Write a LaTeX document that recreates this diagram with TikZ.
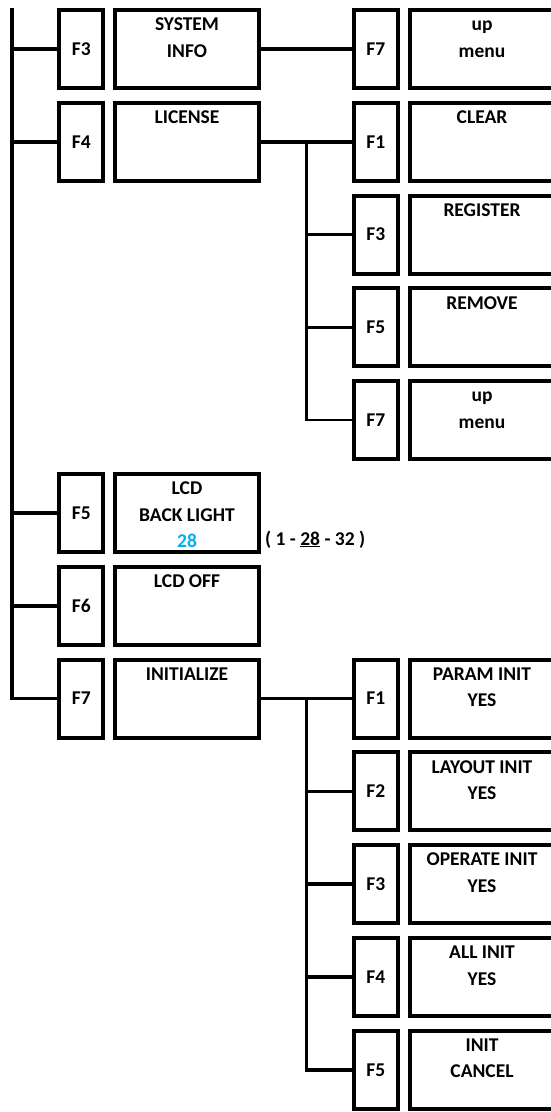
\documentclass[tikz,border=0pt]{standalone}
\usepackage{fontspec}
\setmainfont{Carlito}
\usepackage{tikz}

\definecolor{valblue}{HTML}{00B0F0}
\newcommand{\hd}{\rule{0pt}{19pt}}

\begin{document}
\begin{tikzpicture}[x=1pt, y=-1pt,
    every node/.style={font=\bfseries\fontsize{19.5}{26.4}\selectfont},
    fkey/.style={draw, line width=4pt, minimum width=44pt, minimum height=78pt, inner sep=0pt, outer sep=0pt},
    menu/.style={draw, line width=4pt, minimum width=143.4pt, minimum height=78pt, inner sep=0pt, outer sep=0pt},
    txt/.style={anchor=north, inner sep=0pt, align=center},
    wire/.style={line width=3.5pt}]
    \useasboundingbox (0,0) rectangle (550,1112);

    % Colonne gauche
    \coordinate (bus) at (12,8);
    \node[fkey] (kF3) at (81.25,49) {F3};
    \node[menu] (sysinfo) at (187,49) {};
    \node[txt] (sysinfoT) at ([yshift=-1.5pt]sysinfo.north) {\hd SYSTEM\\INFO};

    \node[fkey] (kF4) at (81.25,141.8) {F4};
    \node[menu] (license) at (187,141.8) {};
    \node[txt] (licenseT) at ([yshift=-1.5pt]license.north) {\hd LICENSE};

    \node[fkey] (kF5) at (81.25,513) {F5};
    \node[menu] (backlight) at (187,513) {};
    \node[txt] (backlightT) at ([yshift=-1.5pt]backlight.north) {\hd LCD\\BACK LIGHT\\\textcolor{valblue}{28}};
    \node[anchor=base west, inner sep=0pt] (range) at (265,545) {( 1 - \underline{28} - 32 )};

    \node[fkey] (kF6) at (81.25,605.8) {F6};
    \node[menu] (lcdoff) at (187,605.8) {};
    \node[txt] (lcdoffT) at ([yshift=-1.5pt]lcdoff.north) {\hd LCD OFF};

    \node[fkey] (kF7) at (81.25,698.6) {F7};
    \node[menu] (init) at (187,698.6) {};
    \node[txt] (initT) at ([yshift=-1.5pt]init.north) {\hd INITIALIZE};

    \draw[wire] (bus) |- (kF7.west);
    \foreach \k in {kF3,kF4,kF5,kF6}
        \draw[wire] (bus |- \k.west) -- (\k.west);

    % Sous-menu SYSTEM INFO
    \node[fkey] (sysF7) at (375.75,49) {F7};
    \node[menu] (sysup) at (482,49) {};
    \node[txt] (sysupT) at ([yshift=-1.5pt]sysup.north) {\hd up\\menu};
    \draw[wire] (sysinfo.east) -- (sysF7.west);

    % Sous-menu LICENSE
    \coordinate (licbus) at (306.7,141.8);
    \node[fkey] (licF1) at (375.75,141.8) {F1};
    \node[menu] (clear) at (482,141.8) {};
    \node[txt] (clearT) at ([yshift=-1.5pt]clear.north) {\hd CLEAR};
    \node[fkey] (licF3) at (375.75,234.6) {F3};
    \node[menu] (register) at (482,234.6) {};
    \node[txt] (registerT) at ([yshift=-1.5pt]register.north) {\hd REGISTER};
    \node[fkey] (licF5) at (375.75,327.4) {F5};
    \node[menu] (remove) at (482,327.4) {};
    \node[txt] (removeT) at ([yshift=-1.5pt]remove.north) {\hd REMOVE};
    \node[fkey] (licF7) at (375.75,420.2) {F7};
    \node[menu] (licup) at (482,420.2) {};
    \node[txt] (licupT) at ([yshift=-1.5pt]licup.north) {\hd up\\menu};

    \draw[wire] (license.east) -- (licF1.west);
    \draw[line width=2.5pt] (licbus) |- (licF7.west);
    \foreach \k in {licF3,licF5}
        \draw[wire] (licbus |- \k.west) -- (\k.west);

    % Sous-menu INITIALIZE
    \coordinate (initbus) at (306.5,698.6);
    \node[fkey] (iniF1) at (375.75,698.6) {F1};
    \node[menu] (param) at (482,698.6) {};
    \node[txt] (paramT) at ([yshift=-1.5pt]param.north) {\hd PARAM INIT\\YES};
    \node[fkey] (iniF2) at (375.75,791.4) {F2};
    \node[menu] (layout) at (482,791.4) {};
    \node[txt] (layoutT) at ([yshift=-1.5pt]layout.north) {\hd LAYOUT INIT\\YES};
    \node[fkey] (iniF3) at (375.75,884.2) {F3};
    \node[menu] (operate) at (482,884.2) {};
    \node[txt] (operateT) at ([yshift=-1.5pt]operate.north) {\hd OPERATE INIT\\YES};
    \node[fkey] (iniF4) at (375.75,977) {F4};
    \node[menu] (allinit) at (482,977) {};
    \node[txt] (allinitT) at ([yshift=-1.5pt]allinit.north) {\hd ALL INIT\\YES};
    \node[fkey] (iniF5) at (375.75,1069.8) {F5};
    \node[menu] (cancel) at (482,1069.8) {};
    \node[txt] (cancelT) at ([yshift=-1.5pt]cancel.north) {\hd INIT\\CANCEL};

    \draw[wire] (init.east) -- (iniF1.west);
    \draw[wire] (initbus) |- (iniF5.west);
    \foreach \k in {iniF2,iniF3,iniF4}
        \draw[wire] (initbus |- \k.west) -- (\k.west);
\end{tikzpicture}
\end{document}
